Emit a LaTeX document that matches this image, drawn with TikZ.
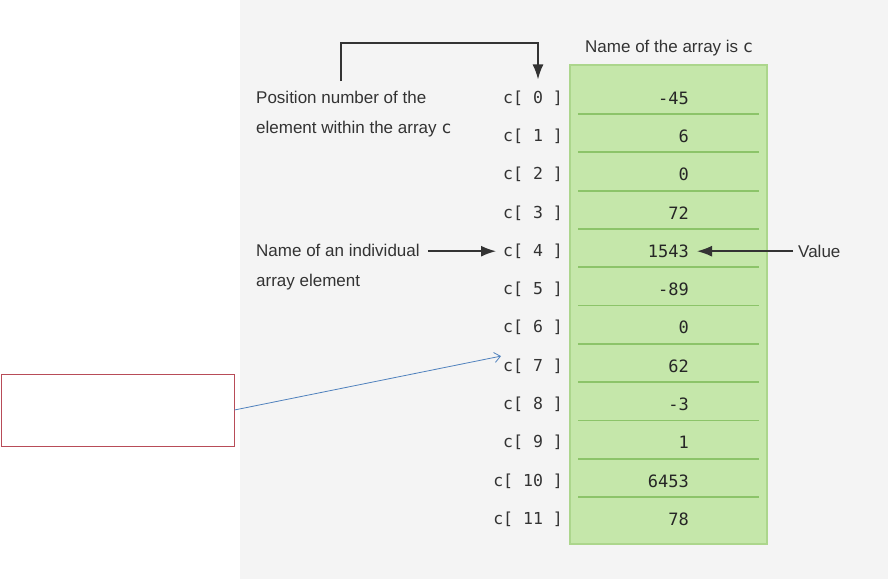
\documentclass[tikz,border=0pt]{standalone}
\usepackage{fontspec}
\setmainfont{Liberation Sans}
\newfontfamily\codefont{DejaVu Sans Mono}
\usetikzlibrary{arrows.meta}
\definecolor{bggrey}{RGB}{244,244,244}
\definecolor{cellgreen}{RGB}{197,231,170}
\definecolor{cellrim}{RGB}{172,214,140}
\definecolor{cellline}{RGB}{140,196,105}
\definecolor{inkgrey}{RGB}{51,51,51}
\definecolor{boxred}{RGB}{184,76,88}
\definecolor{linkblue}{RGB}{79,129,189}
\tikzset{
  lbltext/.style={font=\fontsize{17}{30}\selectfont, text=inkgrey, align=left, inner sep=0pt},
  idxtext/.style={font=\codefont\fontsize{16.5}{19}\selectfont, text=inkgrey, anchor=east, inner sep=2pt},
  valtext/.style={font=\codefont\fontsize{17}{19}\selectfont, text=black!85, anchor=east, inner sep=2pt},
  pointer/.style={draw=inkgrey, line width=1.6pt, -{Latex[length=15pt,width=11pt]}}
}
\begin{document}
\begin{tikzpicture}[x=1pt, y=-1pt]

    \useasboundingbox (0,0) rectangle (888,579);
    \fill[bggrey] (240,0) rectangle (888,579);

    % the array column
    \draw[fill=cellgreen, draw=cellrim, line width=1.5pt] (570,65) rectangle (767,544);
    \foreach \i in {0,...,10}
        \draw[cellline, line width=1.8pt] (578,{114+38.3*\i}) -- (759,{114+38.3*\i});

    \foreach \v [count=\i from 0] in {-45,6,0,72,1543,-89,0,62,-3,1,6453,78} {
        \node[idxtext] (idx\i) at (565,{98+38.3*\i}) {c[ \i\ ]};
        \node[valtext] (val\i) at (691,{98+38.3*\i}) {\v};
    }

    \node[lbltext, anchor=base west] (title) at (585,52) {Name of the array is {\codefont c}};
    \node[lbltext, anchor=north west] (posnote) at (256,90.5) {Position number of the\\element within the array {\codefont c}};
    \node[lbltext, anchor=north west] (elemnote) at (256,243.5) {Name of an individual\\array element};
    \node[lbltext, anchor=west] (valnote) at (798,251) {Value};

    \coordinate (posarm) at (341,81);
    \draw[pointer] (posarm) |- ([xshift=5pt]idx0.north |- 0,43) -- ([xshift=5pt,yshift=9pt]idx0.north);
    \draw[pointer] ([xshift=8pt]elemnote.north east |- idx4.center) -- ([xshift=-5pt]idx4.west);
    \draw[pointer] ([xshift=-5pt]valnote.west |- val4.east) -- ([xshift=6pt]val4.east);

    % empty note box
    \node[draw=boxred, line width=0.8pt, minimum width=233pt, minimum height=72pt, inner sep=0pt] (memo) at (117.5,410) {};
    \draw[linkblue, line width=0.8pt, -{Straight Barb[length=6pt,width=10pt]}] (memo.east) -- ([yshift=10pt]idx7.west);

\end{tikzpicture}
\end{document}
